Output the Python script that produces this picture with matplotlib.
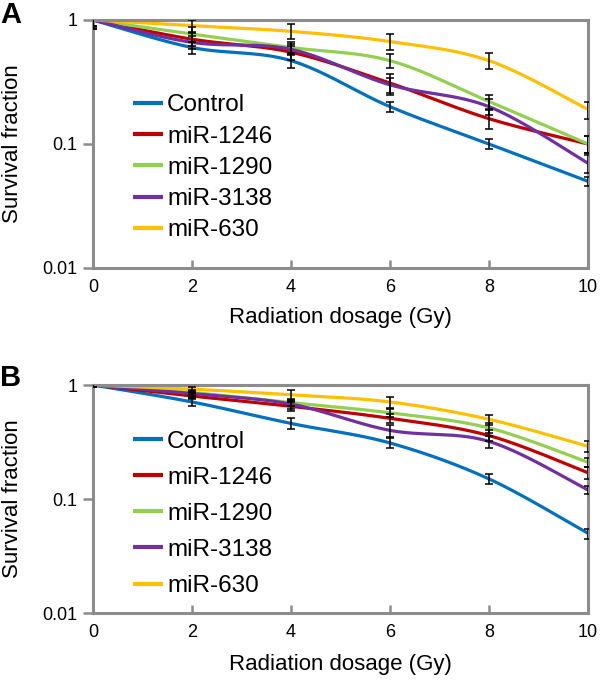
import numpy as np
import matplotlib
matplotlib.use("Agg")
import matplotlib.pyplot as plt
from matplotlib.ticker import FixedLocator, NullLocator

plt.rcParams["font.family"] = ["Liberation Sans", "DejaVu Sans"]

# Data
dose = [0, 2, 4, 6, 8, 10]
labels = ["Control", "miR-1246", "miR-1290", "miR-3138", "miR-630"]
colors = ["#0070C0", "#C00000", "#92D050", "#7030A0", "#FFC000"]

# Panel A survival fractions
a_control = [1, 0.60, 0.47, 0.20, 0.10, 0.05]
a_1246 = [1, 0.70, 0.55, 0.31, 0.16, 0.10]
a_1290 = [1, 0.77, 0.60, 0.47, 0.22, 0.10]
a_3138 = [1, 0.66, 0.58, 0.30, 0.20, 0.07]
a_630 = [1, 0.90, 0.81, 0.67, 0.47, 0.19]

a_control_err = [0.10, 0.07, 0.06, 0.02, 0.009, 0.004]
a_1246_err = [0.12, 0.08, 0.07, 0.06, 0.027, 0.016]
a_1290_err = [0.15, 0.10, 0.06, 0.06, 0.03, 0.015]
a_3138_err = [0.10, 0.08, 0.06, 0.04, 0.03, 0.012]
a_630_err = [0.15, 0.10, 0.11, 0.10, 0.07, 0.03]

# Panel B survival fractions
b_control = [1, 0.71, 0.46, 0.31, 0.15, 0.05]
b_1246 = [1, 0.80, 0.65, 0.51, 0.36, 0.17]
b_1290 = [1, 0.86, 0.70, 0.57, 0.42, 0.21]
b_3138 = [1, 0.84, 0.68, 0.40, 0.32, 0.12]
b_630 = [1, 0.92, 0.82, 0.71, 0.50, 0.29]

b_control_err = [0.03, 0.06, 0.05, 0.03, 0.015, 0.005]
b_1246_err = [0.03, 0.05, 0.06, 0.05, 0.04, 0.02]
b_1290_err = [0.03, 0.05, 0.05, 0.05, 0.04, 0.02]
b_3138_err = [0.03, 0.05, 0.06, 0.05, 0.04, 0.01]
b_630_err = [0.03, 0.05, 0.09, 0.08, 0.05, 0.03]

panels = [
    ("A", [a_control, a_1246, a_1290, a_3138, a_630],
     [a_control_err, a_1246_err, a_1290_err, a_3138_err, a_630_err]),
    ("B", [b_control, b_1246, b_1290, b_3138, b_630],
     [b_control_err, b_1246_err, b_1290_err, b_3138_err, b_630_err]),
]


def smooth_line(x, y, n=40):
    # Excel-style smoothed line: bezier segments through the points (log y space)
    x = np.asarray(x, float)
    ly = np.log10(np.asarray(y, float))
    pts = np.column_stack([x, ly])
    out = []
    t = np.linspace(0, 1, n)[:, None]
    for i in range(len(pts) - 1):
        p0 = pts[max(i - 1, 0)]
        p1 = pts[i]
        p2 = pts[i + 1]
        p3 = pts[min(i + 2, len(pts) - 1)]
        c1 = p1 + (p2 - p0) / 6
        c2 = p2 - (p3 - p1) / 6
        seg = ((1 - t) ** 3) * p1 + 3 * ((1 - t) ** 2) * t * c1 + 3 * (1 - t) * t ** 2 * c2 + t ** 3 * p2
        out.append(seg if i == 0 else seg[1:])
    out = np.vstack(out)
    return out[:, 0], 10 ** out[:, 1]


fig = plt.figure(figsize=(6, 6.8), dpi=100)
ax_a = fig.add_axes([93 / 600, 1 - 268 / 680, 495 / 600, 248 / 680])
ax_b = fig.add_axes([93 / 600, 1 - 613 / 680, 495 / 600, 228 / 680])

spine_col = "#8C8C8C"

# legend placement / spacing per panel
leg_top = {"A": 0.70, "B": 0.80}
leg_space = {"A": 0.38, "B": 0.58}
letter_y = {"A": 1.02, "B": 1.03}
xlab_pad = {"A": 8, "B": 9}

for ax, (letter, series, errs) in zip([ax_a, ax_b], panels):
    for vals, err, lab, col in zip(series, errs, labels, colors):
        sx, sy = smooth_line(dose, vals)
        ax.plot(sx, sy, color=col, lw=2.3, label=lab, zorder=2, solid_capstyle="butt")
        ax.errorbar(dose, vals, yerr=err, fmt="none", ecolor="black", elinewidth=1.1,
                    capsize=3, capthick=1.1, zorder=3)

    ax.set_yscale("log")
    ax.set_ylim(0.01, 1)
    ax.set_xlim(0, 10)
    ax.yaxis.set_major_locator(FixedLocator([0.01, 0.1, 1]))
    ax.yaxis.set_minor_locator(NullLocator())
    ax.set_yticklabels(["0.01", "0.1", "1"])
    ax.set_xticks(dose)
    ax.tick_params(axis="x", direction="in", length=6, width=1.8, color=spine_col,
                   labelsize=13, pad=8)
    ax.tick_params(axis="y", direction="out", length=7, width=1.8, color=spine_col,
                   labelsize=13, pad=4)
    for s in ax.spines.values():
        s.set_color(spine_col)
        s.set_linewidth(2.2)

    ax.set_xlabel("Radiation dosage (Gy)", fontsize=16, labelpad=xlab_pad[letter])
    ax.set_ylabel("Survival fraction", fontsize=16, labelpad=14)

    leg = ax.legend(loc="upper left", bbox_to_anchor=(40 / 495, leg_top[letter]),
                    frameon=False, fontsize=17.5, handlelength=1.25, handletextpad=0.15,
                    labelspacing=leg_space[letter], borderaxespad=0.0, borderpad=0.0)
    for h in leg.get_lines():
        h.set_linewidth(3)

    ax.text(-0.188, letter_y[letter], letter, transform=ax.transAxes, fontsize=21,
            fontweight="bold", ha="left", va="center")

fig.savefig("out.png", dpi=100)
